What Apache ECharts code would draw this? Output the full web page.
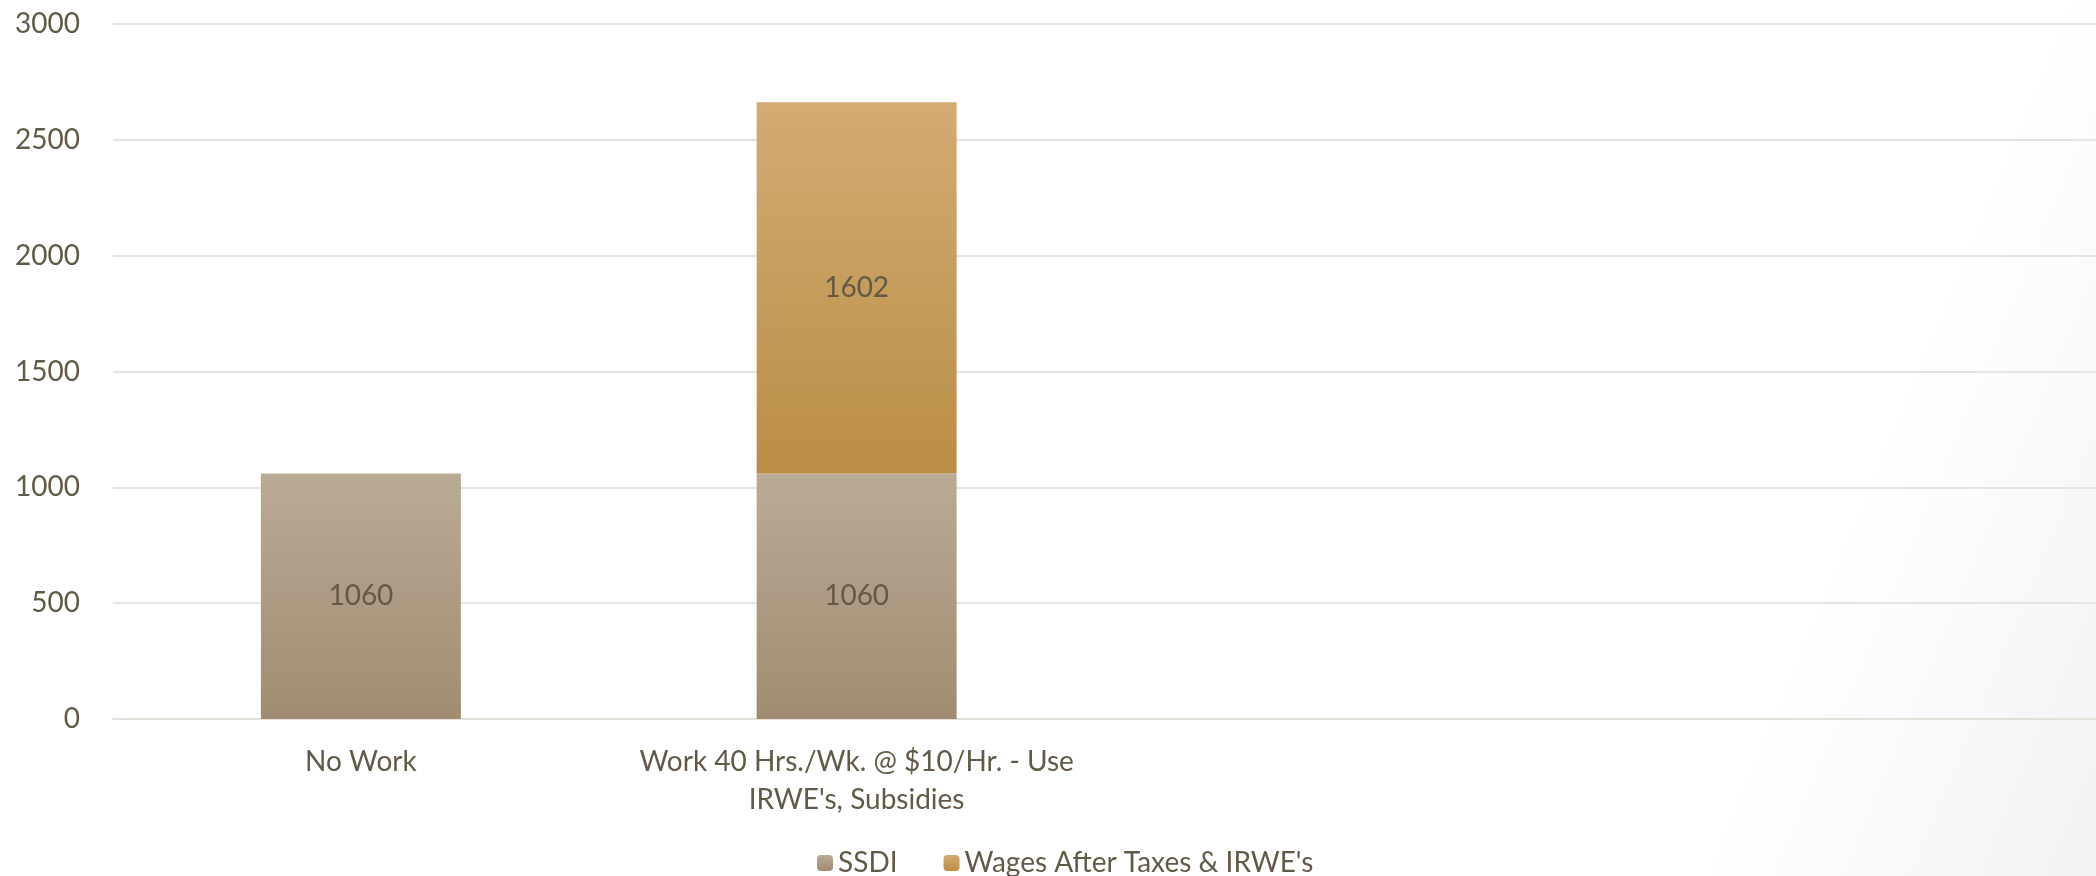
<!DOCTYPE html>
<html>
<head>
<meta charset="utf-8">
<script src="https://cdn.jsdelivr.net/npm/echarts@6/dist/echarts.min.js"></script>
<style>
html,body{margin:0;padding:0;background:#fff;}
#main{width:2096px;height:876px;}
</style>
</head>
<body>
<div id="main"></div>
<script>
const categories = ["No Work", "Work 40 Hrs./Wk. @ $10/Hr. - Use\nIRWE's, Subsidies", "", ""];
const seriesNames = ["SSDI", "Wages After Taxes & IRWE's"];
const ssdiValues = [1060, 1060, null, null];
const wagesValues = [null, 1602, null, null];
const yTicks = { min: 0, max: 3000, interval: 500 };

const textColor = '#625a46';
const font = 'Lato, "Open Sans", sans-serif';

function grad(top, bottom) {
  return new echarts.graphic.LinearGradient(0, 0, 0, 1, [
    { offset: 0, color: top }, { offset: 1, color: bottom }
  ]);
}

const chart = echarts.init(document.getElementById('main'));
chart.setOption({
  backgroundColor: '#ffffff',
  animation: false,
  graphic: [{
    type: 'rect', z: -10, silent: true,
    shape: { x: 0, y: 0, width: 2096, height: 876 },
    style: {
      fill: new echarts.graphic.LinearGradient(0, 0, 1, 1, [
        { offset: 0, color: '#ffffff' },
        { offset: 0.84, color: '#ffffff' },
        { offset: 1, color: '#f2f2f2' }
      ])
    }
  }],
  grid: { left: 113, top: 24, right: 0, bottom: 157, containLabel: false },
  legend: {
    left: 812, top: 844,
    itemWidth: 16, itemHeight: 16, itemGap: 46,
    textStyle: { color: textColor, fontSize: 28, fontFamily: font },
    data: seriesNames
  },
  xAxis: {
    type: 'category',
    data: categories,
    axisLine: { lineStyle: { color: '#e3e0da', width: 2 } },
    axisTick: { show: false },
    axisLabel: { color: textColor, fontSize: 28, fontFamily: font, lineHeight: 38, margin: 24, interval: 0 }
  },
  yAxis: {
    type: 'value',
    min: yTicks.min, max: yTicks.max, interval: yTicks.interval,
    axisLine: { show: false },
    axisTick: { show: false },
    splitLine: { lineStyle: { color: '#e6e4df', width: 2 } },
    axisLabel: { color: textColor, fontSize: 28, fontFamily: font, margin: 33, formatter: v => String(v) }
  },
  series: [
    {
      name: seriesNames[0], type: 'bar', stack: 'total', barWidth: 200,
      itemStyle: { color: grad('#baab96', '#a08c70') },
      label: { show: true, position: 'inside', color: textColor, fontSize: 28, fontFamily: font },
      data: ssdiValues
    },
    {
      name: seriesNames[1], type: 'bar', stack: 'total', barWidth: 200,
      itemStyle: { color: grad('#d3ab73', '#ba8e46') },
      label: { show: true, position: 'inside', color: textColor, fontSize: 28, fontFamily: font },
      data: wagesValues
    }
  ]
});
</script>
</body>
</html>
